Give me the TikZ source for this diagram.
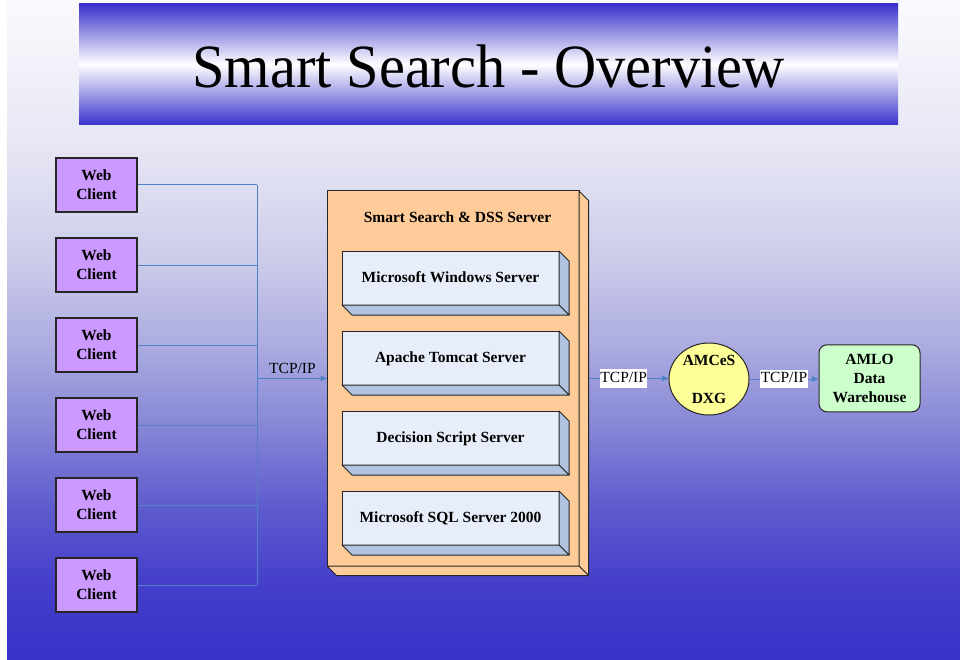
\documentclass[tikz,border=0pt]{standalone}
\usepackage{fontspec}
\setmainfont{Liberation Serif}
\usetikzlibrary{arrows.meta,shapes.geometric,calc}
\definecolor{bg0}{RGB}{55,50,200}
\definecolor{bg1}{RGB}{68,62,202}
\definecolor{bg2}{RGB}{95,92,206}
\definecolor{bg3}{RGB}{135,135,214}
\definecolor{bg4}{RGB}{172,172,225}
\definecolor{bg5}{RGB}{202,202,234}
\definecolor{bg6}{RGB}{222,222,241}
\definecolor{bg7}{RGB}{233,233,246}
\definecolor{bg8}{RGB}{250,250,253}
\definecolor{bnblue}{RGB}{56,50,202}
\definecolor{clientfill}{RGB}{204,153,255}
\definecolor{srvfill}{RGB}{255,204,153}
\definecolor{infront}{RGB}{232,238,249}
\definecolor{inside}{RGB}{176,196,224}
\definecolor{yellowfill}{RGB}{255,255,153}
\definecolor{greenfill}{RGB}{204,255,204}
\definecolor{linkblue}{RGB}{79,129,199}
\pgfdeclareverticalshading{bgshade}{100bp}{color(0bp)=(bg0); color(25bp)=(bg0); color(30.68bp)=(bg1); color(36.74bp)=(bg2); color(42.8bp)=(bg3); color(48.86bp)=(bg4); color(54.92bp)=(bg5); color(60.98bp)=(bg6); color(65.15bp)=(bg7); color(75bp)=(bg8); color(100bp)=(bg8)}
\newcommand\mycubesides[3]{%
  \filldraw[fill=#3, draw=black!85, line width=1pt, line join=round] (#1.north east) -- ++(#2,#2) -- ($(#1.south east)+(#2,#2)$) -- (#1.south east) -- cycle;
  \filldraw[fill=#3, draw=black!85, line width=1pt, line join=round] (#1.south west) -- ++(#2,#2) -- ($(#1.south east)+(#2,#2)$) -- (#1.south east) -- cycle;}
\tikzset{
  txt/.style={font=\bfseries\fontsize{15.5}{19}\selectfont},
  client/.style={txt, draw=black!85, line width=1.3pt, fill=clientfill, minimum width=81pt, minimum height=54pt, inner sep=0pt, align=center},
  srvbox/.style={draw=black!85, line width=1pt, fill=srvfill, minimum width=252pt, minimum height=375pt, inner sep=0pt, outer sep=0pt},
  inbox/.style={txt, draw=black!85, line width=1pt, fill=infront, minimum width=217pt, minimum height=54pt, inner sep=0pt, outer sep=0pt, text height=11pt, text depth=1.5pt},
  link/.style={draw=linkblue, line width=1pt},
  arr/.style={link, -{Triangle[length=6.5pt,width=5.5pt]}},
  tcp/.style={font=\fontsize{15.5}{19}\selectfont, fill=white, inner xsep=0.5pt, inner ysep=2.5pt, text height=10.5pt, text depth=3pt},
}
\begin{document}
\begin{tikzpicture}[x=1pt,y=-1pt]
\useasboundingbox (0,0) rectangle (960,660);
\fill[white] (0,0) rectangle (960,660);
\shade[shading=bgshade] (7,0) rectangle (960,660);
% title banner
\shade[top color=bnblue, bottom color=bnblue, middle color=white] (79,4) rectangle (898,125);
\node[font=\fontsize{61.5}{70}\selectfont, anchor=base, inner sep=0pt] (title) at (488.5,87.3) {\scalebox{0.95}[1]{Smart Search - Overview}};
% web clients
\foreach \i in {1,...,6} {
  \node[client] (wc\i) at (96.5,{105+80*\i}) {Web\\Client};
}
\coordinate (bus) at (257.3,378.3);
\foreach \i in {1,...,6} {
  \draw[link] (wc\i.east) -- (wc\i.east -| bus);
}
\draw[link] (wc1.east -| bus) -- (wc6.east -| bus);
% server
\node[srvbox] (srv) at (453,378.5) {};
\mycubesides{srv}{9.5}{srvfill}
\node[txt, anchor=base, inner sep=0pt] (srvtitle) at (457.5,222.7) {Smart Search \& DSS Server};
\node[inbox] (win) at (450.5,278) {Microsoft Windows Server};
\mycubesides{win}{10}{inside}
\node[inbox] (tom) at (450.5,358) {Apache Tomcat Server};
\mycubesides{tom}{10}{inside}
\node[inbox] (dss) at (450.5,438) {Decision Script Server};
\mycubesides{dss}{10}{inside}
\node[inbox] (sql) at (450.5,518) {Microsoft SQL Server 2000};
\mycubesides{sql}{10}{inside}
% client arrow
\draw[arr] (bus) -- (bus -| srv.west);
\node[font=\fontsize{15.5}{19}\selectfont, anchor=base, inner sep=0pt] (t1) at (292.5,373) {TCP/IP};
% right part
\node[ellipse, draw=black!85, line width=1pt, fill=yellowfill, minimum width=80pt, minimum height=72pt, inner sep=0pt, align=center, txt] (amces) at (709,379) {AMCeS\\[19pt]DXG};
\node[rounded corners=8pt, draw=black!85, line width=1pt, fill=greenfill, minimum width=101pt, minimum height=67pt, inner sep=0pt, align=center, txt] (amlo) at (869.5,378.3) {AMLO\\Data\\Warehouse};
\coordinate (srvR) at ($(srv.east)+(9.5,0)$);
\draw[arr] (srvR) -- node[tcp, pos=0.44] (t2) {TCP/IP} (srvR -| amces.west);
\draw[arr] (amces.east) -- node[tcp, pos=0.5] (t3) {TCP/IP} (amces.east -| amlo.west);
\end{tikzpicture}
\end{document}
